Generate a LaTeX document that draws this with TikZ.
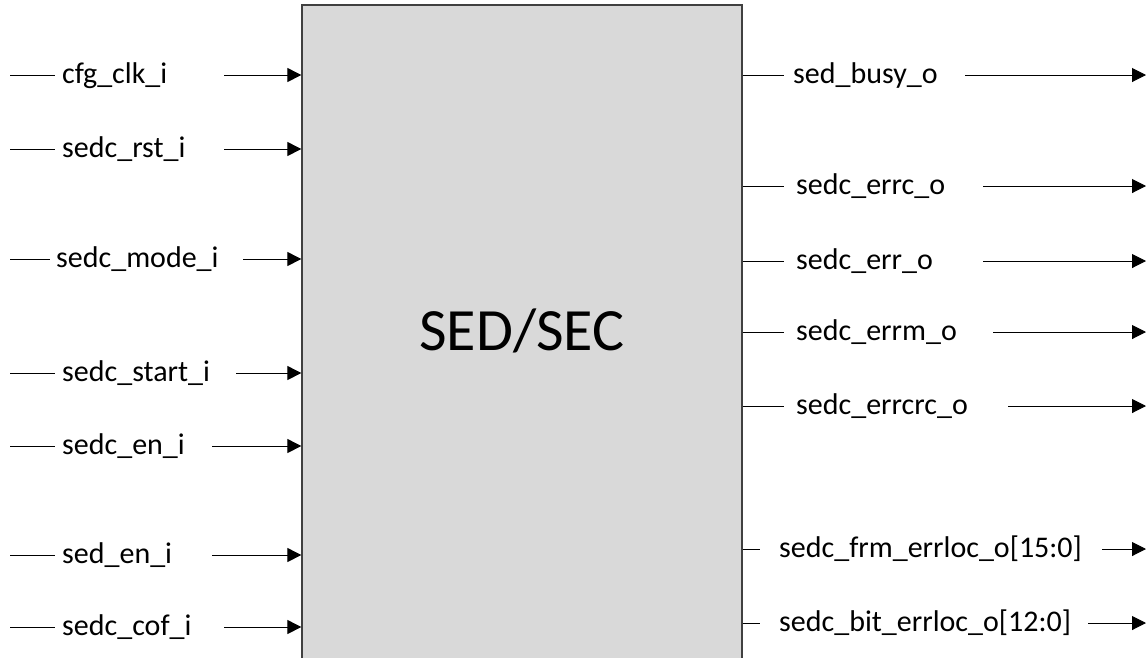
\documentclass[tikz,border=0pt]{standalone}
\usepackage{fontspec}
\setmainfont{Carlito}
\usetikzlibrary{arrows.meta,positioning}
\definecolor{blkfill}{HTML}{D9D9D9}
\definecolor{blkline}{HTML}{404040}
\begin{document}
\begin{tikzpicture}[
  x=1pt, y=-1pt,
  blk/.style={draw=blkline, line width=1.3pt, fill=blkfill, minimum width=440pt, minimum height=680pt, inner sep=0pt},
  title/.style={font=\fontsize{60}{68}\selectfont, inner sep=0pt},
  sig/.style={font=\fontsize{30}{34}\selectfont, anchor=west, inner sep=0pt, text height=22pt, text depth=6pt},
  wire/.style={line width=1pt, black},
  arr/.style={-{Triangle[length=14pt,width=14pt]}, line width=1pt, black},
]
\clip (0,0) rectangle (1148,657);
% ================= block =================
\node[blk] (blk) at (522,345) {};
\node[title] (blkname) at (522,331) {SED/SEC};
% ================= inputs =================
\coordinate (i1s) at (10,75);  \node[sig] (i1) at (62,75)  {cfg\_clk\_i};    \coordinate (i1a) at (224,75);
\coordinate (i2s) at (10,149); \node[sig] (i2) at (62,149) {sedc\_rst\_i};   \coordinate (i2a) at (224,149);
\coordinate (i3s) at (10,259); \node[sig] (i3) at (56,259) {sedc\_mode\_i};  \coordinate (i3a) at (243,259);
\coordinate (i4s) at (10,373); \node[sig] (i4) at (62,373) {sedc\_start\_i}; \coordinate (i4a) at (236,373);
\coordinate (i5s) at (10,446); \node[sig] (i5) at (62,446) {sedc\_en\_i};    \coordinate (i5a) at (212,446);
\coordinate (i6s) at (10,555); \node[sig] (i6) at (62,555) {sed\_en\_i};     \coordinate (i6a) at (212,555);
\coordinate (i7s) at (10,627); \node[sig] (i7) at (62,627) {sedc\_cof\_i};   \coordinate (i7a) at (224,627);
\draw[wire] (i1s) -- ([xshift=-7pt]i1.west); \draw[arr] (i1a) -- (i1a -| blk.west);
\draw[wire] (i2s) -- ([xshift=-7pt]i2.west); \draw[arr] (i2a) -- (i2a -| blk.west);
\draw[wire] (i3s) -- ([xshift=-6pt]i3.west); \draw[arr] (i3a) -- (i3a -| blk.west);
\draw[wire] (i4s) -- ([xshift=-7pt]i4.west); \draw[arr] (i4a) -- (i4a -| blk.west);
\draw[wire] (i5s) -- ([xshift=-7pt]i5.west); \draw[arr] (i5a) -- (i5a -| blk.west);
\draw[wire] (i6s) -- ([xshift=-7pt]i6.west); \draw[arr] (i6a) -- (i6a -| blk.west);
\draw[wire] (i7s) -- ([xshift=-7pt]i7.west); \draw[arr] (i7a) -- (i7a -| blk.west);
% ================= outputs =================
\node[sig] (o1) at (793,75)  {sed\_busy\_o};               \coordinate (o1a) at (965,75);
\node[sig] (o2) at (796,186) {sedc\_errc\_o};              \coordinate (o2a) at (983,186);
\node[sig] (o3) at (796,261) {sedc\_err\_o};               \coordinate (o3a) at (983,261);
\node[sig] (o4) at (796,332) {sedc\_errm\_o};              \coordinate (o4a) at (993,332);
\node[sig] (o5) at (796,406) {sedc\_errcrc\_o};            \coordinate (o5a) at (1008,406);
\node[sig] (o6) at (779,549) {sedc\_frm\_errloc\_o[15:0]}; \coordinate (o6a) at (1102,549);
\node[sig] (o7) at (779,623) {sedc\_bit\_errloc\_o[12:0]}; \coordinate (o7a) at (1088,623);
\coordinate (oend) at (1146,0);
\draw[wire] (o1.west -| blk.east) -- ([xshift=-9pt]o1.west); \draw[arr] (o1a) -- (o1a -| oend);
\draw[wire] (o2.west -| blk.east) -- ([xshift=-12pt]o2.west); \draw[arr] (o2a) -- (o2a -| oend);
\draw[wire] (o3.west -| blk.east) -- ([xshift=-12pt]o3.west); \draw[arr] (o3a) -- (o3a -| oend);
\draw[wire] (o4.west -| blk.east) -- ([xshift=-12pt]o4.west); \draw[arr] (o4a) -- (o4a -| oend);
\draw[wire] (o5.west -| blk.east) -- ([xshift=-12pt]o5.west); \draw[arr] (o5a) -- (o5a -| oend);
\draw[wire] (o6.west -| blk.east) -- ([xshift=-19pt]o6.west); \draw[arr] (o6a) -- (o6a -| oend);
\draw[wire] (o7.west -| blk.east) -- ([xshift=-19pt]o7.west); \draw[arr] (o7a) -- (o7a -| oend);
\end{tikzpicture}
\end{document}
